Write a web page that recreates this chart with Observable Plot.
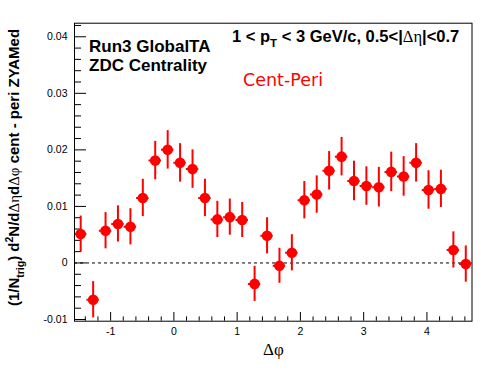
<!DOCTYPE html>
<html>
<head>
<meta charset="utf-8">
<script src="https://cdn.jsdelivr.net/npm/d3@7"></script>
<script src="https://cdn.jsdelivr.net/npm/@observablehq/plot@0.6"></script>
<style>
  html, body { margin: 0; padding: 0; background: white; }
</style>
</head>
<body>
<div id="chart"></div>
<script>
// Δφ bin centres (32 bins over [-π/2, 3π/2])
const dphi = [-1.473, -1.276, -1.080, -0.884, -0.687, -0.491, -0.295, -0.098,
               0.098,  0.295,  0.491,  0.687,  0.884,  1.080,  1.276,  1.473,
               1.669,  1.865,  2.062,  2.258,  2.454,  2.651,  2.847,  3.043,
               3.240,  3.436,  3.632,  3.829,  4.025,  4.221,  4.418,  4.614];
// per-trigger yield, cent - peri (ZYAM subtracted)
const yieldVals = [0.0051, -0.0065, 0.0057, 0.0069, 0.0064, 0.0115, 0.0181, 0.0200,
                   0.0177, 0.0166, 0.0115, 0.0077, 0.0081, 0.0076, -0.0037, 0.0048,
                  -0.0005, 0.0018, 0.0111, 0.0121, 0.0163, 0.0188, 0.0145, 0.0136,
                   0.0134, 0.0161, 0.0153, 0.0177, 0.0129, 0.0131, 0.0023, -0.0002];
const yieldErr = [0.0032, 0.0032, 0.0032, 0.0032, 0.0032, 0.0033, 0.0034, 0.0034,
                  0.0034, 0.0034, 0.0033, 0.0032, 0.0032, 0.0031, 0.0031, 0.0032,
                  0.0031, 0.0032, 0.0033, 0.0033, 0.0034, 0.0034, 0.0035, 0.0034,
                  0.0035, 0.0035, 0.0035, 0.0034, 0.0034, 0.0033, 0.0032, 0.0032];
const binHalfWidth = 0.0982;

const xTicks = [-1, 0, 1, 2, 3, 4];
const yTicks = [-0.01, 0, 0.01, 0.02, 0.03, 0.04];
const xMinor = d3.range(-1.4, 4.61, 0.2).filter(v => Math.abs(v - Math.round(v)) > 1e-6);
const yMinor = d3.range(-0.010, 0.0421, 0.002).filter(v => Math.abs(v * 100 - Math.round(v * 100)) > 1e-6);

const data = dphi.map((x, i) => ({x, y: yieldVals[i], e: yieldErr[i]}));

const W = 496, H = 374;
const mL = 74, mR = 24.5, mT = 22.7, mB = 53.3;
const fw = W - mL - mR, fh = H - mT - mB;

const fmtY = d => d === 0 ? "0" : String(+d.toFixed(2));

const chart = Plot.plot({
  width: W, height: H,
  marginLeft: mL, marginRight: mR, marginTop: mT, marginBottom: mB,
  x: {domain: [-Math.PI / 2, 3 * Math.PI / 2]},
  y: {domain: [-0.0103, 0.0424]},
  style: {fontFamily: "'Liberation Sans', Arial, sans-serif", fontSize: "10.5px", color: "black", background: "white"},
  marks: [
    Plot.ruleY([0], {stroke: "black", strokeWidth: 1, strokeDasharray: "3,3"}),
    // inward ticks
    Plot.ruleX(xTicks, {x: d => d, insetTop: fh - 8.7, stroke: "black"}),
    Plot.ruleX(xMinor, {x: d => d, insetTop: fh - 4.3, stroke: "black"}),
    Plot.ruleY(yTicks, {y: d => d, insetRight: fw - 12, stroke: "black"}),
    Plot.ruleY(yMinor, {y: d => d, insetRight: fw - 7, stroke: "black"}),
    Plot.axisX(xTicks, {tickSize: 0, tickPadding: 6, label: null, tickFormat: d => String(d)}),
    Plot.axisY(yTicks, {tickSize: 0, tickPadding: 7, label: null, tickFormat: fmtY}),
    // error bars
    Plot.ruleX(data, {x: "x", y1: d => d.y - d.e, y2: d => d.y + d.e, stroke: "#ff0000", strokeWidth: 2}),
    Plot.ruleY(data, {y: "y", x1: d => d.x - binHalfWidth, x2: d => d.x + binHalfWidth, stroke: "#ff0000", strokeWidth: 2, clip: true}),
    Plot.dot(data, {x: "x", y: "y", r: 5.3, fill: "#ff0000", stroke: "none"}),
    Plot.frame({stroke: "black", strokeWidth: 1})
  ]
});

const svg = d3.select(chart);
const sans = "'Liberation Sans', Arial, sans-serif";
const serif = "'Liberation Serif', 'Times New Roman', serif";

// Labels in the plot
svg.append("text").attr("x", 89).attr("y", 51.7).attr("text-anchor", "start")
  .attr("font-family", sans).attr("font-weight", "bold").attr("font-size", 17)
  .attr("fill", "black").text("Run3 GlobalTA");
svg.append("text").attr("x", 89).attr("y", 70.5).attr("text-anchor", "start")
  .attr("font-family", sans).attr("font-weight", "bold").attr("font-size", 17)
  .attr("fill", "black").text("ZDC Centrality");

const t1 = svg.append("text").attr("x", 232).attr("y", 41.7).attr("text-anchor", "start")
  .attr("font-family", sans).attr("font-weight", "bold").attr("font-size", 16.5)
  .attr("fill", "black");
t1.append("tspan").text("1 < p");
t1.append("tspan").attr("font-size", 11.5).attr("dy", 5).text("T");
t1.append("tspan").attr("dy", -5).text(" < 3 GeV/c, 0.5<|");
t1.append("tspan").attr("font-family", serif).attr("font-weight", "normal").text("Δη");
t1.append("tspan").text("|<0.7");

svg.append("text").attr("x", 243).attr("y", 86).attr("text-anchor", "start")
  .attr("font-family", "'DejaVu Sans', sans-serif").attr("font-size", 17.5)
  .attr("fill", "#ff0000").text("Cent-Peri");

// x title
svg.append("text").attr("x", 263).attr("y", 355).attr("text-anchor", "start")
  .attr("font-family", serif).attr("font-size", 17).attr("fill", "black").text("Δφ");

// y title
const yt = svg.append("text")
  .attr("transform", "translate(19,167.5) rotate(-90)")
  .attr("text-anchor", "middle")
  .attr("font-family", sans).attr("font-weight", "bold").attr("font-size", 15)
  .attr("fill", "black");
yt.append("tspan").text("(1/N");
yt.append("tspan").attr("font-size", 10.5).attr("dy", 4.5).text("trig");
yt.append("tspan").attr("dy", -4.5).text(") d");
yt.append("tspan").attr("font-size", 10.5).attr("dy", -6).text("2");
yt.append("tspan").attr("dy", 6).text("N/d");
yt.append("tspan").attr("font-family", serif).attr("font-weight", "normal").text("Δη");
yt.append("tspan").text("d");
yt.append("tspan").attr("font-family", serif).attr("font-weight", "normal").text("Δφ");
yt.append("tspan").text(" cent - peri ZYAMed");

document.getElementById("chart").appendChild(chart);
</script>
</body>
</html>
